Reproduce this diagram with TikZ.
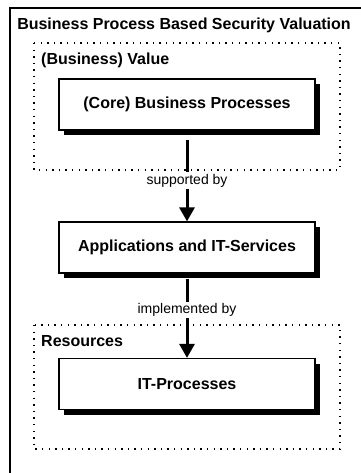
\documentclass[tikz,border=0pt]{standalone}
\usepackage{fontspec}
\setmainfont{Liberation Sans}
\usetikzlibrary{arrows.meta,shadows}
\begin{document}
\begin{tikzpicture}[x=1pt,y=-1pt,
  procbox/.style={draw, line width=1.2pt, fill=white, minimum width=256pt, minimum height=51pt,
    inner sep=0pt, font=\bfseries\fontsize{16}{19}\selectfont,
    drop shadow={shadow xshift=5pt, shadow yshift=-5pt, fill=black, opacity=1}},
  grouplabel/.style={anchor=west, inner sep=0pt, font=\bfseries\fontsize{16}{19}\selectfont},
  dotbox/.style={line width=1.4pt, dash pattern=on 1.4pt off 5.2pt},
  flow/.style={line width=3pt, -{Triangle[width=15pt,length=14pt]}},
  flowlabel/.style={fill=white, inner sep=1.5pt, font=\fontsize{14}{16}\selectfont}]
\useasboundingbox (0,0) rectangle (360,473);
% outer frame (right and bottom sides outside the picture)
\draw[line width=2pt] (9.5,8) rectangle (380,490);
\node[anchor=center, inner sep=0pt, font=\bfseries\fontsize{16}{19}\selectfont] (title) at (184,25) {Business Process Based Security Valuation};
% dotted groups
\draw[dotbox] (34,43) rectangle (340,170);
\node[grouplabel] (valuelbl) at (41,60) {(Business) Value};
\draw[dotbox] (34,325) rectangle (340,449);
\node[grouplabel] (reslbl) at (41,341) {Resources};
% process boxes
\node[procbox] (bp) at (187,104.5) {(Core) Business Processes};
\node[procbox] (apps) at (187,247.5) {Applications and IT-Services};
\node[procbox] (itp) at (187,384) {IT-Processes};
% connectors
\draw[flow] ([yshift=-9pt]bp.south) -- node[flowlabel, pos=0.5] {supported by} (apps.north);
\draw[flow] ([yshift=-5pt]apps.south) -- node[flowlabel, pos=0.4] {implemented by} (itp.north);
\end{tikzpicture}
\end{document}
